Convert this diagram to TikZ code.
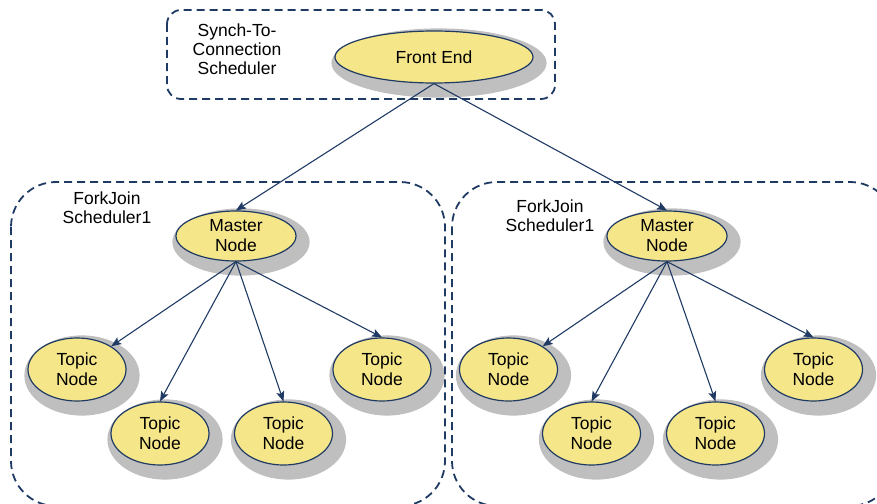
\documentclass[tikz,border=0pt]{standalone}
\usepackage{fontspec}
\setmainfont{Liberation Sans}
\usetikzlibrary{shapes.geometric,arrows.meta,calc,backgrounds}
\definecolor{nodefill}{HTML}{F5E68A}
\definecolor{navy}{HTML}{1F3B64}
\begin{document}
\begin{tikzpicture}[x=1pt,y=-1pt,
  ell/.style={ellipse, draw=navy, line width=1.2pt, fill=nodefill, inner sep=0pt,
    align=center, font=\fontsize{17.5}{20}\selectfont},
  master/.style={ell, minimum width=120pt, minimum height=50pt},
  topic/.style={ell, minimum width=98pt, minimum height=63pt},
  grp/.style={draw=navy, line width=1.8pt, dash pattern=on 8pt off 5pt},
  lbl/.style={align=center, font=\fontsize{17.5}{19}\selectfont},
  arr/.style={draw=navy, line width=1.1pt, -{Stealth[length=10pt,width=8pt,inset=2pt]}}]
\clip (0,0) rectangle (877,503);
\useasboundingbox (0,0) rectangle (877,503);
% group boxes
\draw[grp, rounded corners=14pt] (167,10) rectangle (555,99);
\draw[grp, rounded corners=45pt] (11,182) rectangle (445,506);
\draw[grp, rounded corners=45pt] (452,182) rectangle (895,506);
% labels
\node[lbl] (synch) at (237,49) {Synch-To-\\Connection\\Scheduler};
\node[lbl] (fj1) at (107,208) {ForkJoin\\Scheduler1};
\node[lbl] (fj2) at (550,216) {ForkJoin\\Scheduler1};
% nodes
\node[ell, minimum width=198pt, minimum height=52pt] (fe) at (434,57) {Front End};
\node[master] (m1) at (236,236) {Master\\Node};
\node[master] (m2) at (667,236) {Master\\Node};
\node[topic] (t11) at (77,369.5) {Topic\\Node};
\node[topic] (t12) at (160,433.5) {Topic\\Node};
\node[topic] (t13) at (283.5,433.5) {Topic\\Node};
\node[topic] (t14) at (382,369.5) {Topic\\Node};
\node[topic] (t21) at (508.5,369.5) {Topic\\Node};
\node[topic] (t22) at (591.5,433.5) {Topic\\Node};
\node[topic] (t23) at (715.5,433.5) {Topic\\Node};
\node[topic] (t24) at (813.5,369.5) {Topic\\Node};
% soft shadows
\begin{scope}[on background layer]
\foreach \nd in {fe,m1,m2,t11,t12,t13,t14,t21,t22,t23,t24}{
  \path let \p1=(\nd.east), \p2=(\nd.west), \p3=(\nd.north), \p4=(\nd.south), \p5=(\nd.center) in
    [fill=black!3] (\x5+5pt,\y5-6pt) ellipse [x radius={0.5*(\x1-\x2)+8pt}, y radius={0.5*(\y3-\y4)+8pt}]
    [fill=black!7] (\x5+5pt,\y5-6pt) ellipse [x radius={0.5*(\x1-\x2)+6pt}, y radius={0.5*(\y3-\y4)+6pt}]
    [fill=black!12] (\x5+5pt,\y5-6pt) ellipse [x radius={0.5*(\x1-\x2)+4pt}, y radius={0.5*(\y3-\y4)+4pt}]
    [fill=black!18] (\x5+4.5pt,\y5-5.5pt) ellipse [x radius={0.5*(\x1-\x2)+2pt}, y radius={0.5*(\y3-\y4)+2pt}]
    [fill=black!25] (\x5+4pt,\y5-5pt) ellipse [x radius={0.5*(\x1-\x2)}, y radius={0.5*(\y3-\y4)}];
}
\end{scope}
% connectors
\draw[arr] (fe.south) -- (m1.north);
\draw[arr] (fe.south) -- (m2.north);
\draw[arr] (m1.south) -- (t11);
\draw[arr] (m1.south) -- (t12.north);
\draw[arr] (m1.south) -- (t13.north);
\draw[arr] (m1.south) -- (t14.north);
\draw[arr] (m2.south) -- (t21);
\draw[arr] (m2.south) -- (t22.north);
\draw[arr] (m2.south) -- (t23.north);
\draw[arr] (m2.south) -- (t24.north);
\end{tikzpicture}
\end{document}
